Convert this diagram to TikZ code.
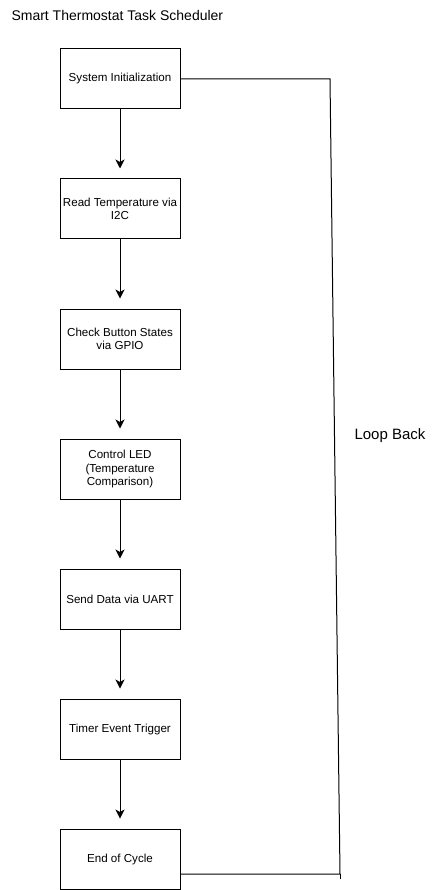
\documentclass[tikz,border=0pt]{standalone}
\usepackage{fontspec}
\setmainfont{Liberation Sans}
\usetikzlibrary{arrows.meta}
\usetikzlibrary{positioning}

\tikzset{
    task/.style={draw, line width=1pt, minimum width=120pt, minimum height=60pt,
        align=center, inner sep=1pt, font=\fontsize{11.6}{13.5}\selectfont},
    flow/.style={line width=1pt, -{Stealth[length=9pt,width=9pt,inset=2.5pt]}, shorten >=10pt},
    loopline/.style={line width=1pt}
}

\begin{document}
\begin{tikzpicture}[x=1pt,y=-1pt]

    \useasboundingbox (0,0) rectangle (440,890);

	\node[anchor=west, font=\fontsize{14}{16}\selectfont] (title) at (8,16) {Smart Thermostat Task Scheduler};

        \node[task] (init)    at (120,79)  {System Initialization};
        \node[task] (temp)    at (120,209) {Read Temperature via\\I2C};
        \node[task] (button)  at (120,339) {Check Button States\\via GPIO};
        \node[task] (led)     at (120,469) {Control LED\\(Temperature\\Comparison)};
        \node[task] (uart)    at (120,599) {Send Data via UART};
        \node[task] (timer)   at (120,729) {Timer Event Trigger};
        \node[task] (cycle)   at (120,859) {End of Cycle};

        \draw[flow] (init) -- (temp);
        \draw[flow] (temp) -- (button);
        \draw[flow] (button) -- (led);
        \draw[flow] (led) -- (uart);
        \draw[flow] (uart) -- (timer);
        \draw[flow] (timer) -- (cycle);

        % loop back line
        \coordinate (looptop) at (330,79);
        \coordinate (loopbot) at (340,874);
        \coordinate (looptick) at (340,879);
        \draw[loopline] ([yshift=-15pt]cycle.east) -- (loopbot) -- (looptop) -- (init.east);
        \draw[loopline] (loopbot) -- (looptick);

        \node[font=\fontsize{15}{17}\selectfont] (loopback) at (390,436) {Loop Back};
    \end{tikzpicture}
\end{document}
